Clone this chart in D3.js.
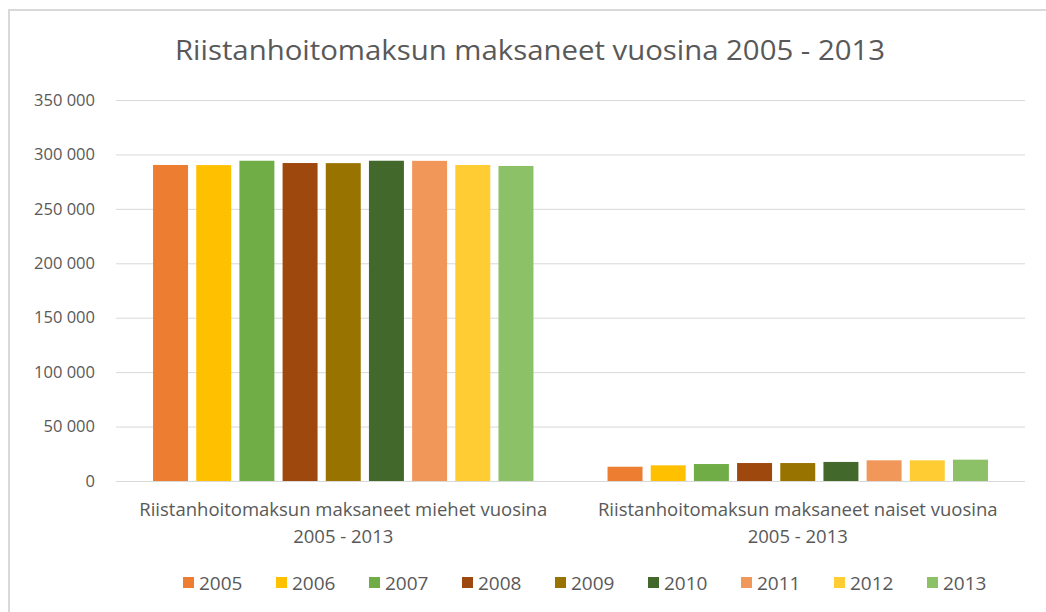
<!DOCTYPE html>
<html>
<head>
<meta charset="utf-8">
<script src="https://cdn.jsdelivr.net/npm/d3@7"></script>
<style>
  body { margin: 0; background: #fff; }
  svg { display: block; font-family: "Open Sans", "Liberation Sans", sans-serif; }
</style>
</head>
<body>
<div id="chart-area"></div>
<script>
// DATA
const categories = [
  "Riistanhoitomaksun maksaneet miehet vuosina 2005 - 2013",
  "Riistanhoitomaksun maksaneet naiset vuosina 2005 - 2013"
]
const categoryLines = [
  ["Riistanhoitomaksun maksaneet miehet vuosina", "2005 - 2013"],
  ["Riistanhoitomaksun maksaneet naiset vuosina", "2005 - 2013"]
]
const years = ["2005", "2006", "2007", "2008", "2009", "2010", "2011", "2012", "2013"]
const men = [290300, 290200, 294200, 292100, 292000, 294200, 294100, 290300, 289400]
const women = [13100, 14400, 15600, 16500, 16500, 17500, 19000, 19000, 19600]
const yTicks = [0, 50000, 100000, 150000, 200000, 250000, 300000, 350000]
const colors = ["#ed7d31", "#ffc000", "#70ad47", "#9e480e", "#997300", "#43682b", "#f1975a", "#ffcd33", "#8cc168"]

const W = 1046, H = 612
const MARGIN = { LEFT: 116, RIGHT: 21, TOP: 100, BOTTOM: 130 }
const WIDTH = W - MARGIN.LEFT - MARGIN.RIGHT
const HEIGHT = 481 - MARGIN.TOP

const svg = d3.select("#chart-area").append("svg")
  .attr("width", W)
  .attr("height", H)

// chart frame
svg.append("rect")
  .attr("x", 9).attr("y", 10)
  .attr("width", W + 20).attr("height", H + 20)
  .attr("fill", "#fff")
  .attr("stroke", "#d9d9d9")
  .attr("stroke-width", 2)

// title
svg.append("text")
  .attr("x", 530).attr("y", 60)
  .attr("text-anchor", "middle")
  .attr("font-size", "28px")
  .attr("textLength", 710)
  .attr("lengthAdjust", "spacingAndGlyphs")
  .attr("fill", "#595959")
  .text("Riistanhoitomaksun maksaneet vuosina 2005 - 2013")

const g = svg.append("g")
  .attr("transform", `translate(${MARGIN.LEFT}, ${MARGIN.TOP})`)

const y = d3.scaleLinear().domain([0, 350000]).range([HEIGHT, 0])

const x0 = d3.scaleBand()
  .domain(categories)
  .range([0, WIDTH])
  .paddingInner(0.163)
  .paddingOuter(0.0815)

const x1 = d3.scaleBand()
  .domain(years)
  .range([0, x0.bandwidth()])
  .paddingInner(0.19)

// gridlines
const fmt = v => d3.format(",")(v).replace(/,/g, " ")
const yAxis = g.append("g")
  .call(d3.axisLeft(y).tickValues(yTicks).tickSize(-WIDTH).tickFormat(fmt))
yAxis.select(".domain").remove()
yAxis.selectAll(".tick line").attr("stroke", "#d9d9d9").attr("stroke-width", 1)
yAxis.selectAll(".tick text")
  .attr("x", -21)
  .attr("font-size", "16.5px")
  .attr("font-family", "'Open Sans', sans-serif")
  .attr("fill", "#595959")

// bars
const series = [men, women]
const groups = g.selectAll(".cat")
  .data(categories)
  .enter().append("g")
  .attr("class", "cat")
  .attr("transform", d => `translate(${x0(d)}, 0)`)

groups.selectAll("rect")
  .data((d, i) => years.map((yr, j) => ({ yr, v: series[i][j], c: colors[j] })))
  .enter().append("rect")
  .attr("x", d => x1(d.yr))
  .attr("y", d => y(d.v))
  .attr("width", x1.bandwidth())
  .attr("height", d => HEIGHT - y(d.v))
  .attr("fill", d => d.c)

// baseline
g.append("line")
  .attr("x1", 0).attr("x2", WIDTH)
  .attr("y1", HEIGHT + 0.5).attr("y2", HEIGHT + 0.5)
  .attr("stroke", "#d9d9d9")

// category labels
categories.forEach((c, i) => {
  const t = g.append("text")
    .attr("text-anchor", "middle")
    .attr("font-size", "18.5px")
    .attr("fill", "#595959")
  categoryLines[i].forEach((ln, k) => {
    t.append("tspan")
      .attr("x", x0(c) + x0.bandwidth() / 2)
      .attr("y", HEIGHT + 35 + k * 27)
      .text(ln)
  })
})

// legend
const legendX = [183, 276, 369, 462, 555, 648, 741, 834, 927]
const legend = svg.append("g")
years.forEach((yr, j) => {
  const it = legend.append("g").attr("transform", `translate(${legendX[j]}, 583)`)
  it.append("rect").attr("x", 0).attr("y", -6).attr("width", 11).attr("height", 11).attr("fill", colors[j])
  it.append("text").attr("x", 16).attr("y", 7)
    .attr("font-size", "19px").attr("fill", "#595959").text(yr)
})
</script>
</body>
</html>
